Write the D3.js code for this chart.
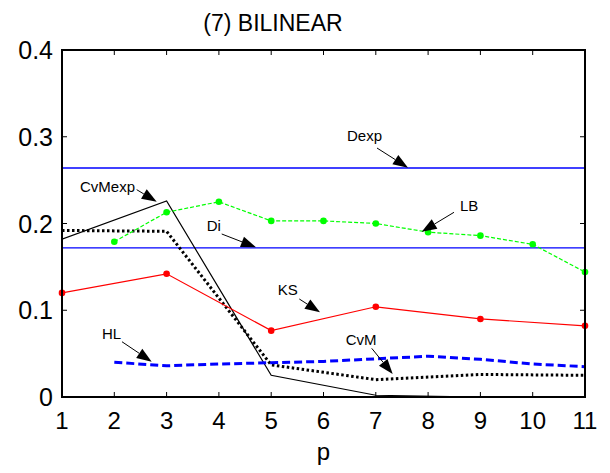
<!DOCTYPE html>
<html><head><meta charset="utf-8">
<script src="https://cdn.jsdelivr.net/npm/d3@7"></script>
<style>
html,body{margin:0;padding:0;background:#fff;}
svg{display:block;font-family:"Liberation Sans",Arial,Helvetica,sans-serif;}
</style></head>
<body><svg id="chart" width="610" height="473"></svg>
<script>
// ---- data ----
const title = "(7) BILINEAR";
const xLabel = "p";
const xTicks = [1,2,3,4,5,6,7,8,9,10,11];
const yTicks = [0, 0.1, 0.2, 0.3, 0.4];
const yTickLabels = ["0","0.1","0.2","0.3","0.4"];

const dexpValue = 0.264;
const diValue = 0.172;

const lbX = [2,3,4,5,6,7,8,9,10,11];
const lbY = [0.179,0.213,0.225,0.203,0.203,0.200,0.190,0.186,0.176,0.144];

const ksX = [1,3,5,7,9,11];
const ksY = [0.120,0.142,0.0765,0.104,0.090,0.082];

const cvmexpX = [1,3,5,7,9,11];
const cvmexpY = [0.182,0.226,0.025,0.002,0.0,0.0];

const cvmX = [1,3,5,7,9,11];
const cvmY = [0.192,0.191,0.037,0.020,0.026,0.025];

const hlX = [2,3,4,5,6,7,8,9,10,11];
const hlY = [0.040,0.036,0.038,0.0395,0.041,0.044,0.047,0.0435,0.038,0.035];

// annotations: label, text anchor (data units), arrow tail, arrow head (data units)
const annLabels = ["Dexp","LB","Di","CvMexp","KS","HL","CvM"];
const annText = [[6.449,0.295],[8.610,0.2144],[3.767,0.1914],[1.344,0.236],[5.124,0.1176],[1.765,0.0669],[6.424,0.0599]];
const annTail = [[7.023,0.287],[8.495,0.2129],[4.054,0.1879],[2.428,0.239],[5.537,0.113],[2.147,0.0637],[6.922,0.0561]];
const annHead = [[7.616,0.2643],[7.878,0.1905],[4.709,0.1726],[2.811,0.2251],[5.933,0.0976],[2.715,0.0407],[7.323,0.0265]];

// ---- layout ----
const svg = d3.select("#chart");
const L = 62, R = 585, T = 50, B = 397;
const x = d3.scaleLinear().domain([1,11]).range([L,R]);
const y = d3.scaleLinear().domain([0,0.4]).range([B,T]);

svg.append("defs").append("clipPath").attr("id","clip")
  .append("rect").attr("x",L).attr("y",T).attr("width",R-L).attr("height",B-T);

const plot = svg.append("g").attr("clip-path","url(#clip)");

// horizontal reference lines
plot.append("line").attr("x1",L).attr("x2",R).attr("y1",y(dexpValue)).attr("y2",y(dexpValue))
  .attr("stroke","#0000ff").attr("stroke-width",1.6);
plot.append("line").attr("x1",L).attr("x2",R).attr("y1",y(diValue)).attr("y2",y(diValue))
  .attr("stroke","#0000ff").attr("stroke-width",1.3);

const line = d3.line().x(d=>x(d[0])).y(d=>y(d[1]));
const zip = (a,b)=>a.map((v,i)=>[v,b[i]]);

// CvMexp
plot.append("path").datum(zip(cvmexpX,cvmexpY)).attr("d",line)
  .attr("fill","none").attr("stroke","#000").attr("stroke-width",1.2);
// CvM dotted
plot.append("path").datum(zip(cvmX,cvmY)).attr("d",line)
  .attr("fill","none").attr("stroke","#000").attr("stroke-width",3).attr("stroke-dasharray","2.5,2.5");
// HL dashed
plot.append("path").datum(zip(hlX,hlY)).attr("d",line)
  .attr("fill","none").attr("stroke","#0000ff").attr("stroke-width",3).attr("stroke-dasharray","8,4");
// KS
plot.append("path").datum(zip(ksX,ksY)).attr("d",line)
  .attr("fill","none").attr("stroke","#ff0000").attr("stroke-width",1.2);
// LB
plot.append("path").datum(zip(lbX,lbY)).attr("d",line)
  .attr("fill","none").attr("stroke","#00ff00").attr("stroke-width",1.2).attr("stroke-dasharray","4,2");

// markers (not clipped)
svg.append("g").selectAll("circle").data(zip(ksX,ksY)).join("circle")
  .attr("cx",d=>x(d[0])).attr("cy",d=>y(d[1])).attr("r",3.3).attr("fill","#ff0000");
svg.append("g").selectAll("circle").data(zip(lbX,lbY)).join("circle")
  .attr("cx",d=>x(d[0])).attr("cy",d=>y(d[1])).attr("r",3.3).attr("fill","#00ff00");

// axes box
const ax = svg.append("g");
ax.append("rect").attr("x",L).attr("y",T).attr("width",R-L).attr("height",B-T)
  .attr("fill","none").attr("stroke","#000").attr("stroke-width",2);
const tl = 5;
xTicks.forEach(t=>{
  ax.append("line").attr("x1",x(t)).attr("x2",x(t)).attr("y1",B).attr("y2",B-tl).attr("stroke","#000").attr("stroke-width",1);
  ax.append("line").attr("x1",x(t)).attr("x2",x(t)).attr("y1",T).attr("y2",T+tl).attr("stroke","#000").attr("stroke-width",1);
  ax.append("text").attr("x",x(t)).attr("y",B+32).attr("text-anchor","middle")
    .attr("font-size",24).text(t);
});
yTicks.forEach((t,i)=>{
  ax.append("line").attr("x1",L).attr("x2",L+tl).attr("y1",y(t)).attr("y2",y(t)).attr("stroke","#000").attr("stroke-width",1);
  ax.append("line").attr("x1",R).attr("x2",R-tl).attr("y1",y(t)).attr("y2",y(t)).attr("stroke","#000").attr("stroke-width",1);
  ax.append("text").attr("x",L-9).attr("y",y(t)+9).attr("text-anchor","end")
    .attr("font-size",25).text(yTickLabels[i]);
});

svg.append("text").attr("x",(L+R)/2).attr("y",460).attr("text-anchor","middle")
  .attr("font-size",24).text(xLabel);
svg.append("text").attr("x",273).attr("y",31).attr("text-anchor","middle")
  .attr("font-size",23).text(title);

// annotations
const ag = svg.append("g");
annLabels.forEach((lab,i)=>{
  ag.append("text").attr("x",x(annText[i][0])).attr("y",y(annText[i][1]))
    .attr("font-size",15).attr("fill","#000").text(lab);
  const x0=x(annTail[i][0]), y0=y(annTail[i][1]), x1=x(annHead[i][0]), y1=y(annHead[i][1]);
  const dx=x1-x0, dy=y1-y0, len=Math.hypot(dx,dy), ux=dx/len, uy=dy/len;
  const hl=15, hw=5.5;
  const bx=x1-ux*hl, by=y1-uy*hl;
  ag.append("line").attr("x1",x0).attr("y1",y0).attr("x2",bx).attr("y2",by)
    .attr("stroke","#000").attr("stroke-width",1);
  ag.append("path").attr("d",`M${x1},${y1}L${bx-uy*hw},${by+ux*hw}L${bx+uy*hw},${by-ux*hw}Z`)
    .attr("fill","#000");
});
</script></body></html>
